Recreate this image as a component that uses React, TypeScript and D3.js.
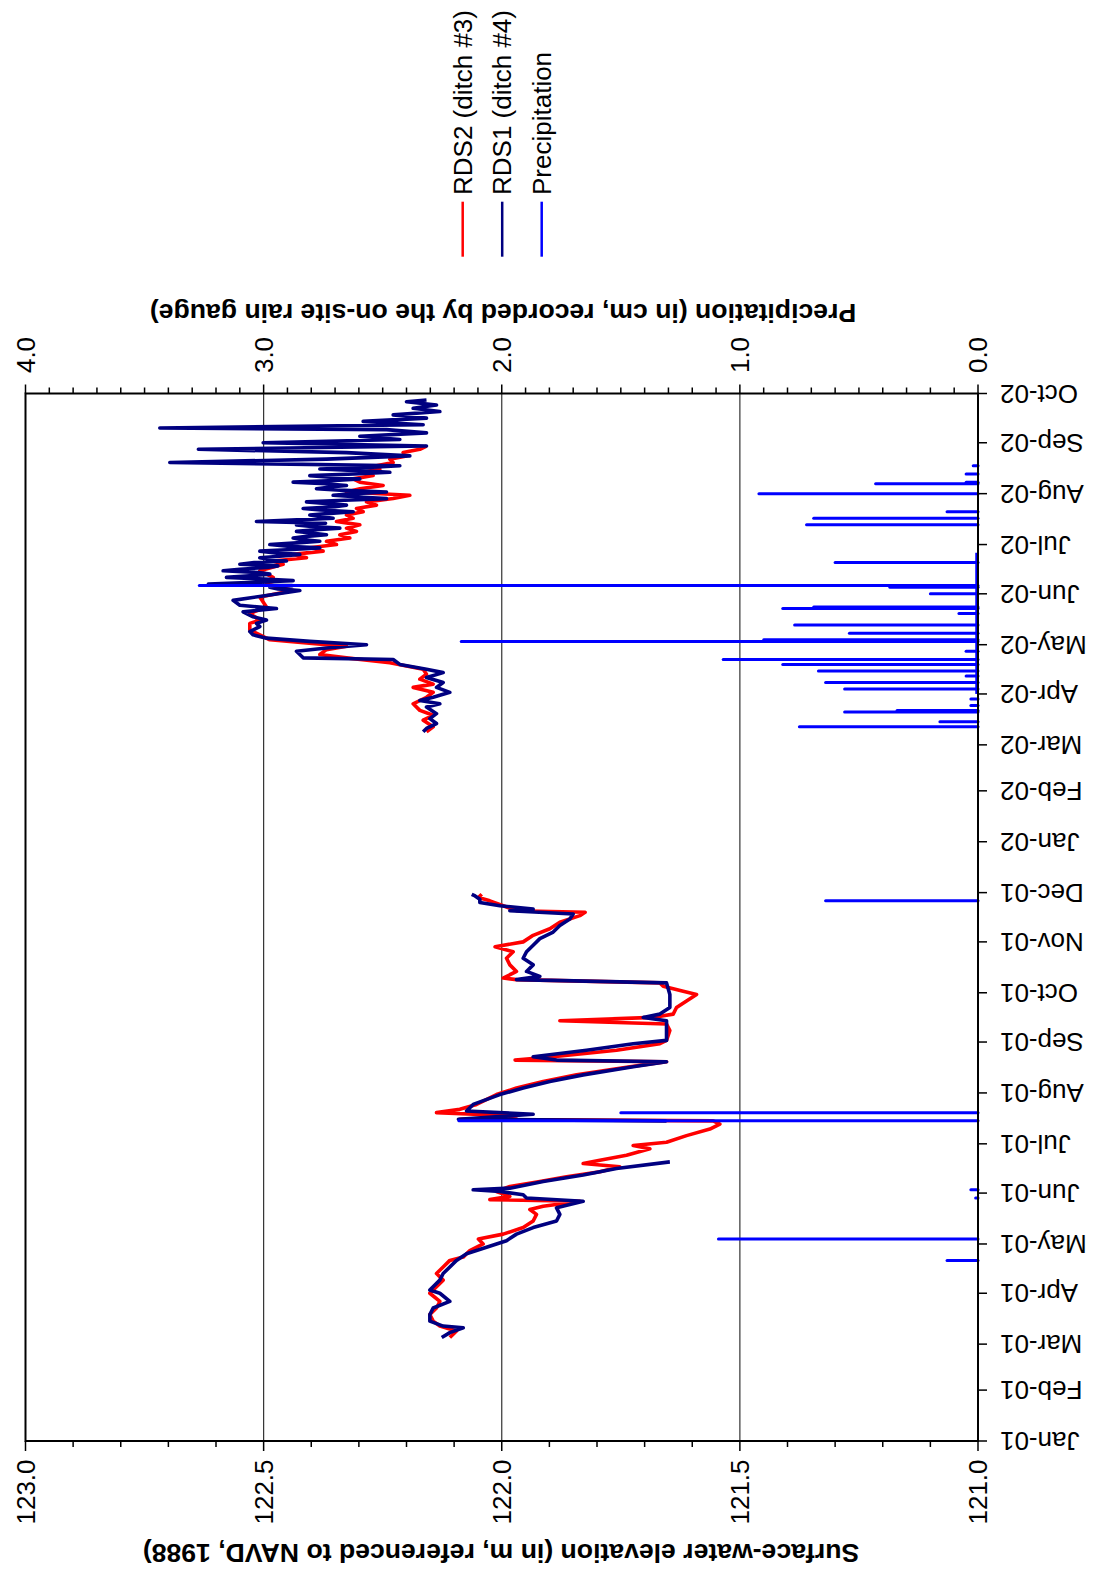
import * as d3 from "d3";
import { FC } from "react";

// RDS2 (ditch #3) elevations, m NAVD 1988
const rds2Spring2001: [string, number][] = [
  ["2001-03-05", 122.109], ["2001-03-09", 122.095], ["2001-03-12", 122.13], ["2001-03-15", 122.144],
  ["2001-03-19", 122.151], ["2001-03-23", 122.137], ["2001-03-27", 122.13], ["2001-04-01", 122.151],
  ["2001-04-05", 122.137], ["2001-04-09", 122.123], ["2001-04-13", 122.137], ["2001-04-17", 122.123],
  ["2001-04-21", 122.109], ["2001-04-23", 122.081], ["2001-04-27", 122.067], ["2001-05-01", 122.039],
  ["2001-05-04", 122.049], ["2001-05-07", 121.997], ["2001-05-11", 121.955], ["2001-05-15", 121.934],
  ["2001-05-19", 121.927], ["2001-05-22", 121.941], ["2001-05-24", 121.913], ["2001-05-27", 121.836],
  ["2001-05-28", 122.025], ["2001-05-30", 121.983], ["2001-06-02", 122.011], ["2001-06-05", 121.983],
  ["2001-06-08", 121.92], ["2001-06-11", 121.864], ["2001-06-14", 121.794], ["2001-06-17", 121.752],
  ["2001-06-19", 121.829], ["2001-06-21", 121.794], ["2001-06-24", 121.738], ["2001-06-28", 121.689],
  ["2001-06-30", 121.724], ["2001-07-02", 121.654], ["2001-07-06", 121.612], ["2001-07-10", 121.563],
  ["2001-07-13", 121.542], ["2001-07-15", 121.556], ["2001-07-16", 122.088], ["2001-07-18", 121.969],
  ["2001-07-20", 122.137], ["2001-07-22", 122.088], ["2001-07-25", 122.053], ["2001-07-31", 122.011],
  ["2001-08-04", 121.969], ["2001-08-08", 121.913], ["2001-08-12", 121.843], ["2001-08-17", 121.731],
  ["2001-08-20", 121.654], ["2001-08-21", 121.972], ["2001-08-23", 121.892], ["2001-08-27", 121.759],
  ["2001-08-31", 121.668], ["2001-09-02", 121.654], ["2001-09-08", 121.647], ["2001-09-12", 121.654],
  ["2001-09-14", 121.878], ["2001-09-16", 121.682], ["2001-09-18", 121.64], ["2001-09-22", 121.633],
  ["2001-09-26", 121.612], ["2001-09-30", 121.591], ["2001-10-02", 121.619], ["2001-10-05", 121.661],
  ["2001-10-07", 121.668], ["2001-10-09", 121.969], ["2001-10-10", 121.997], ["2001-10-14", 121.969],
  ["2001-10-18", 121.983], ["2001-10-22", 121.99], ["2001-10-26", 121.976], ["2001-10-29", 122.014],
  ["2001-11-01", 121.955], ["2001-11-05", 121.934], ["2001-11-09", 121.899], ["2001-11-13", 121.878],
  ["2001-11-17", 121.836], ["2001-11-19", 121.825], ["2001-11-20", 121.969], ["2001-11-23", 121.997],
  ["2001-11-26", 122.025], ["2001-11-28", 122.049], ["2001-11-30", 122.042]
];

const rds2Year2002: [string, number][] = [
  ["2002-03-09", 122.158], ["2002-03-12", 122.144], ["2002-03-16", 122.165], ["2002-03-19", 122.144],
  ["2002-03-22", 122.172], ["2002-03-26", 122.186], ["2002-03-30", 122.158], ["2002-04-02", 122.144],
  ["2002-04-05", 122.186], ["2002-04-07", 122.144], ["2002-04-10", 122.172], ["2002-04-13", 122.158],
  ["2002-04-16", 122.165], ["2002-04-20", 122.235], ["2002-04-23", 122.326], ["2002-04-25", 122.382],
  ["2002-04-28", 122.368], ["2002-04-30", 122.326], ["2002-05-02", 122.41], ["2002-05-04", 122.487],
  ["2002-05-07", 122.508], ["2002-05-10", 122.529], ["2002-05-14", 122.529], ["2002-05-16", 122.508],
  ["2002-05-20", 122.529], ["2002-05-24", 122.494], ["2002-05-30", 122.508], ["2002-06-03", 122.438],
  ["2002-06-07", 122.494], ["2002-06-11", 122.48], ["2002-06-15", 122.508], ["2002-06-19", 122.459],
  ["2002-06-21", 122.48], ["2002-06-23", 122.41], ["2002-06-25", 122.438], ["2002-06-27", 122.375],
  ["2002-06-29", 122.403], ["2002-07-01", 122.347], ["2002-07-03", 122.368], ["2002-07-05", 122.319],
  ["2002-07-07", 122.34], ["2002-07-09", 122.305], ["2002-07-11", 122.326], ["2002-07-13", 122.298],
  ["2002-07-15", 122.347], ["2002-07-17", 122.312], ["2002-07-19", 122.326], ["2002-07-21", 122.291],
  ["2002-07-23", 122.305], ["2002-07-25", 122.263], ["2002-07-27", 122.284], ["2002-07-29", 122.228],
  ["2002-07-31", 122.193], ["2002-08-02", 122.326], ["2002-08-04", 122.298], ["2002-08-06", 122.249],
  ["2002-08-08", 122.298], ["2002-08-10", 122.312], ["2002-08-12", 122.27], ["2002-08-14", 122.291],
  ["2002-08-16", 122.256], ["2002-08-18", 122.263], ["2002-08-20", 122.228], ["2002-08-22", 122.235],
  ["2002-08-24", 122.2], ["2002-08-26", 122.207], ["2002-08-28", 122.172], ["2002-08-30", 122.158]
];

// RDS1 (ditch #4) elevations, m NAVD 1988
const rds1Spring2001: [string, number][] = [
  ["2001-03-05", 122.126], ["2001-03-08", 122.109], ["2001-03-11", 122.081], ["2001-03-12", 122.123],
  ["2001-03-15", 122.151], ["2001-03-19", 122.151], ["2001-03-23", 122.144], ["2001-03-27", 122.109],
  ["2001-04-01", 122.13], ["2001-04-03", 122.151], ["2001-04-09", 122.13], ["2001-04-13", 122.123],
  ["2001-04-17", 122.109], ["2001-04-21", 122.095], ["2001-04-25", 122.074], ["2001-04-29", 122.032],
  ["2001-05-03", 121.99], ["2001-05-07", 121.969], ["2001-05-11", 121.934], ["2001-05-15", 121.885],
  ["2001-05-19", 121.878], ["2001-05-23", 121.885], ["2001-05-27", 121.829], ["2001-05-29", 121.948],
  ["2001-05-31", 121.955], ["2001-06-02", 122.004], ["2001-06-03", 122.06], ["2001-06-04", 121.983],
  ["2001-06-08", 121.913], ["2001-06-12", 121.829], ["2001-06-16", 121.759], ["2001-06-20", 121.647]
];

const rds1Summer2001: [string, number][] = [
  ["2001-07-15", 121.654], ["2001-07-16", 122.091], ["2001-07-19", 121.934], ["2001-07-21", 122.074],
  ["2001-07-25", 122.06], ["2001-07-31", 122.004], ["2001-08-04", 121.955], ["2001-08-08", 121.899],
  ["2001-08-12", 121.829], ["2001-08-17", 121.724], ["2001-08-20", 121.654], ["2001-08-21", 121.885],
  ["2001-08-23", 121.934], ["2001-08-27", 121.822], ["2001-08-31", 121.724], ["2001-09-02", 121.654],
  ["2001-09-08", 121.654], ["2001-09-14", 121.654], ["2001-09-16", 121.703], ["2001-09-18", 121.668],
  ["2001-09-22", 121.647], ["2001-09-30", 121.647], ["2001-10-07", 121.654], ["2001-10-09", 121.969],
  ["2001-10-11", 121.92], ["2001-10-14", 121.948], ["2001-10-18", 121.934], ["2001-10-22", 121.955],
  ["2001-10-26", 121.948], ["2001-10-30", 121.934], ["2001-11-03", 121.92], ["2001-11-07", 121.892],
  ["2001-11-11", 121.878], ["2001-11-15", 121.857], ["2001-11-18", 121.85], ["2001-11-20", 121.983],
  ["2001-11-21", 121.934], ["2001-11-23", 122.004], ["2001-11-25", 122.046], ["2001-11-27", 122.046],
  ["2001-11-29", 122.056], ["2001-11-30", 122.063]
];

const rds1Year2002: [string, number][] = [
  ["2002-03-09", 122.165], ["2002-03-11", 122.158], ["2002-03-14", 122.137], ["2002-03-17", 122.151],
  ["2002-03-20", 122.137], ["2002-03-24", 122.158], ["2002-03-26", 122.13], ["2002-03-28", 122.172],
  ["2002-03-30", 122.144], ["2002-04-02", 122.109], ["2002-04-05", 122.137], ["2002-04-08", 122.123],
  ["2002-04-11", 122.158], ["2002-04-14", 122.123], ["2002-04-16", 122.158], ["2002-04-19", 122.214],
  ["2002-04-22", 122.228], ["2002-04-23", 122.417], ["2002-04-25", 122.424], ["2002-04-27", 122.431],
  ["2002-04-29", 122.368], ["2002-05-01", 122.284], ["2002-05-03", 122.403], ["2002-05-05", 122.494],
  ["2002-05-07", 122.522], ["2002-05-09", 122.529], ["2002-05-12", 122.508], ["2002-05-14", 122.515],
  ["2002-05-16", 122.494], ["2002-05-18", 122.522], ["2002-05-21", 122.543], ["2002-05-23", 122.473],
  ["2002-05-25", 122.55], ["2002-05-28", 122.564], ["2002-05-31", 122.494], ["2002-06-03", 122.424],
  ["2002-06-04", 122.47], ["2002-06-05", 122.487], ["2002-06-06", 122.44], ["2002-06-07", 122.616],
  ["2002-06-08", 122.52], ["2002-06-09", 122.438], ["2002-06-10", 122.5], ["2002-06-11", 122.578],
  ["2002-06-12", 122.53], ["2002-06-13", 122.487], ["2002-06-14", 122.51], ["2002-06-15", 122.585],
  ["2002-06-16", 122.55], ["2002-06-17", 122.494], ["2002-06-18", 122.47], ["2002-06-19", 122.55],
  ["2002-06-20", 122.52], ["2002-06-21", 122.452], ["2002-06-22", 122.49], ["2002-06-23", 122.508],
  ["2002-06-24", 122.46], ["2002-06-25", 122.424], ["2002-06-26", 122.48], ["2002-06-27", 122.508],
  ["2002-06-28", 122.44], ["2002-06-29", 122.382], ["2002-06-30", 122.45], ["2002-07-01", 122.487],
  ["2002-07-02", 122.43], ["2002-07-03", 122.382], ["2002-07-04", 122.42], ["2002-07-05", 122.438],
  ["2002-07-06", 122.41], ["2002-07-07", 122.368], ["2002-07-08", 122.4], ["2002-07-09", 122.431],
  ["2002-07-10", 122.39], ["2002-07-11", 122.34], ["2002-07-12", 122.4], ["2002-07-13", 122.431],
  ["2002-07-14", 122.37], ["2002-07-15", 122.515], ["2002-07-16", 122.43], ["2002-07-17", 122.354],
  ["2002-07-18", 122.38], ["2002-07-19", 122.403], ["2002-07-20", 122.36], ["2002-07-21", 122.312],
  ["2002-07-22", 122.38], ["2002-07-23", 122.417], ["2002-07-24", 122.35], ["2002-07-25", 122.326],
  ["2002-07-26", 122.37], ["2002-07-27", 122.41], ["2002-07-28", 122.33], ["2002-07-29", 122.242],
  ["2002-07-30", 122.3], ["2002-07-31", 122.354], ["2002-08-01", 122.31], ["2002-08-02", 122.242],
  ["2002-08-03", 122.33], ["2002-08-04", 122.389], ["2002-08-05", 122.36], ["2002-08-06", 122.326],
  ["2002-08-07", 122.37], ["2002-08-08", 122.438], ["2002-08-09", 122.35], ["2002-08-10", 122.298],
  ["2002-08-11", 122.36], ["2002-08-12", 122.403], ["2002-08-13", 122.31], ["2002-08-14", 122.235],
  ["2002-08-15", 122.3], ["2002-08-16", 122.382], ["2002-08-17", 122.28], ["2002-08-18", 122.214],
  ["2002-08-20", 122.697], ["2002-08-22", 122.368], ["2002-08-24", 122.193], ["2002-08-26", 122.326],
  ["2002-08-28", 122.637], ["2002-08-30", 122.158], ["2002-09-01", 122.501], ["2002-09-03", 122.214],
  ["2002-09-05", 122.298], ["2002-09-07", 122.158], ["2002-09-09", 122.242], ["2002-09-10", 122.718],
  ["2002-09-12", 122.165], ["2002-09-14", 122.291], ["2002-09-16", 122.158], ["2002-09-18", 122.228],
  ["2002-09-20", 122.13], ["2002-09-22", 122.186], ["2002-09-24", 122.137], ["2002-09-26", 122.2],
  ["2002-09-27", 122.158]
];

// daily rain totals, cm
const precipEvents: [string, number][] = [
  ["2001-04-21", 0.13], ["2001-05-04", 1.09], ["2001-05-29", 0.01], ["2001-06-03", 0.03],
  ["2001-07-15", 2.18], ["2001-07-20", 1.5], ["2001-11-26", 0.64],
  ["2002-03-12", 0.75], ["2002-03-15", 0.16], ["2002-03-21", 0.56], ["2002-03-22", 0.34],
  ["2002-03-25", 0.03], ["2002-03-29", 0.03], ["2002-04-04", 0.56], ["2002-04-08", 0.64],
  ["2002-04-12", 0.05], ["2002-04-15", 0.67], ["2002-04-19", 0.82], ["2002-04-22", 1.07],
  ["2002-04-27", 0.05], ["2002-05-03", 2.17], ["2002-05-04", 0.9], ["2002-05-08", 0.54],
  ["2002-05-13", 0.77], ["2002-05-20", 0.08], ["2002-05-23", 0.82], ["2002-05-24", 0.69],
  ["2002-06-01", 0.2], ["2002-06-05", 0.37], ["2002-06-06", 3.27], ["2002-06-20", 0.6],
  ["2002-07-13", 0.72], ["2002-07-17", 0.69], ["2002-07-21", 0.13], ["2002-08-01", 0.92],
  ["2002-08-07", 0.43], ["2002-08-08", 0.05], ["2002-08-13", 0.05], ["2002-08-18", 0.02]
];
const precipBaseline: [string, string][] = [["2002-04-01", "2002-06-26"]];

const legendItems = [
  { label: "RDS2 (ditch #3)", color: "#ff0000" },
  { label: "RDS1 (ditch #4)", color: "#000080" },
  { label: "Precipitation", color: "#0000ff" }
];

const elevTitle = "Surface-water elevation (in m, referenced to NAVD, 1988)";
const precipTitle = "Precipitation (in cm, recorded by the on-site rain gauge)";

const W = 1095;
const H = 1585;
const FONT = "'Liberation Sans', Arial, Helvetica, sans-serif";

const parse = d3.timeParse("%Y-%m-%d");
const fmtMonth = d3.timeFormat("%b-%y");

const App: FC = () => {
  // the chart is turned a quarter: time runs up the page, values run leftwards
  const left = 25.5, right = 978, top = 393.5, bottom = 1441;
  const start = parse("2001-01-01")!;
  const end = parse("2002-10-01")!;

  const yTime = d3.scaleTime().domain([start, end]).range([bottom, top]);
  const xElev = d3.scaleLinear().domain([121, 123]).range([right, left]);
  const xPrecip = d3.scaleLinear().domain([0, 4]).range([right, left]);

  const elevLine = d3
    .line<[string, number]>()
    .x((d) => xElev(d[1]))
    .y((d) => yTime(parse(d[0])!));

  const elevTicks = xElev.ticks(20);
  const isHalf = (v: number) => Math.abs(v * 2 - Math.round(v * 2)) < 1e-6;
  const precipTicks = xPrecip.ticks(40);
  const isWhole = (v: number) => Math.abs(v - Math.round(v)) < 1e-6;
  const months = d3.timeMonth.range(start, d3.timeMonth.offset(end, 1));

  const rds2 = [rds2Spring2001, rds2Year2002];
  const rds1 = [rds1Spring2001, rds1Summer2001, rds1Year2002];

  return (
    <svg
      width={W}
      height={H}
      style={{ position: "absolute", left: 0, top: 0, background: "#fff" }}
      fontFamily={FONT}
    >
      <rect width={W} height={H} fill="#fff" />

      {/* grid */}
      {elevTicks
        .filter((v) => isHalf(v) && v > 121 && v < 123)
        .map((v) => (
          <line key={"g" + v} x1={xElev(v)} x2={xElev(v)} y1={top} y2={bottom} stroke="#333" strokeWidth={1.2} />
        ))}

      {/* series */}
      {rds2.map((s, i) => (
        <path key={"r" + i} d={elevLine(s)!} fill="none" stroke="#ff0000" strokeWidth={3.6} strokeLinejoin="round" />
      ))}
      {rds1.map((s, i) => (
        <path key={"n" + i} d={elevLine(s)!} fill="none" stroke="#000080" strokeWidth={3.6} strokeLinejoin="round" />
      ))}
      {precipBaseline.map(([a, b]) => (
        <line key={a} x1={xPrecip(0) - 1.5} x2={xPrecip(0) - 1.5} y1={yTime(parse(a)!)} y2={yTime(parse(b)!)} stroke="#0000ff" strokeWidth={2.5} />
      ))}
      {precipEvents.map(([d, v]) => (
        <line
          key={d}
          x1={xPrecip(0)}
          x2={xPrecip(v)}
          y1={yTime(parse(d)!)}
          y2={yTime(parse(d)!)}
          stroke="#0000ff"
          strokeWidth={3}
          strokeLinecap="round"
        />
      ))}

      {/* frame */}
      <rect x={left} y={top} width={right - left} height={bottom - top} fill="none" stroke="#000" strokeWidth={2} />

      {/* elevation axis (bottom) */}
      {elevTicks.map((v) => (
        <line key={"e" + v} x1={xElev(v)} x2={xElev(v)} y1={bottom} y2={bottom + (isHalf(v) ? 10 : 6)} stroke="#000" strokeWidth={1.5} />
      ))}
      {elevTicks.filter(isHalf).map((v) => (
        <text
          key={"el" + v}
          transform={`translate(${xElev(v)},1492) rotate(-90)`}
          textAnchor="middle"
          dominantBaseline="central"
          fontSize={26}
        >
          {d3.format(".1f")(v)}
        </text>
      ))}
      <text
        transform={`translate(501,1553) rotate(180)`}
        textAnchor="middle"
        dominantBaseline="central"
        fontSize={26.6}
        fontWeight="bold"
      >
        {elevTitle}
      </text>

      {/* precipitation axis (top) */}
      {precipTicks.map((v) => (
        <line key={"p" + v} x1={xPrecip(v)} x2={xPrecip(v)} y1={top} y2={top - (isWhole(v) ? 9 : 6)} stroke="#000" strokeWidth={1.5} />
      ))}
      {precipTicks.filter(isWhole).map((v) => (
        <text
          key={"pl" + v}
          transform={`translate(${xPrecip(v)},355) rotate(-90)`}
          textAnchor="middle"
          dominantBaseline="central"
          fontSize={26}
        >
          {d3.format(".1f")(v)}
        </text>
      ))}
      <text
        transform={`translate(503,313) rotate(180)`}
        textAnchor="middle"
        dominantBaseline="central"
        fontSize={26.6}
        fontWeight="bold"
      >
        {precipTitle}
      </text>

      {/* time axis (right) */}
      {months.map((m) => (
        <g key={m.getTime()}>
          <line x1={right} x2={right + 9} y1={yTime(m)} y2={yTime(m)} stroke="#000" strokeWidth={1.5} />
          <text
            transform={`translate(1000,${yTime(m)}) rotate(180)`}
            textAnchor="end"
            dominantBaseline="central"
            fontSize={26}
          >
            {fmtMonth(m)}
          </text>
        </g>
      ))}

      {/* legend */}
      {legendItems.map((it, i) => {
        const x = 462.7 + i * 39.5;
        return (
          <g key={it.label}>
            <line x1={x} x2={x} y1={201.7} y2={256.7} stroke={it.color} strokeWidth={2.5} />
            <text
              transform={`translate(${x},195) rotate(-90)`}
              textAnchor="start"
              dominantBaseline="central"
              fontSize={26}
            >
              {it.label}
            </text>
          </g>
        );
      })}
    </svg>
  );
};

export default App;
